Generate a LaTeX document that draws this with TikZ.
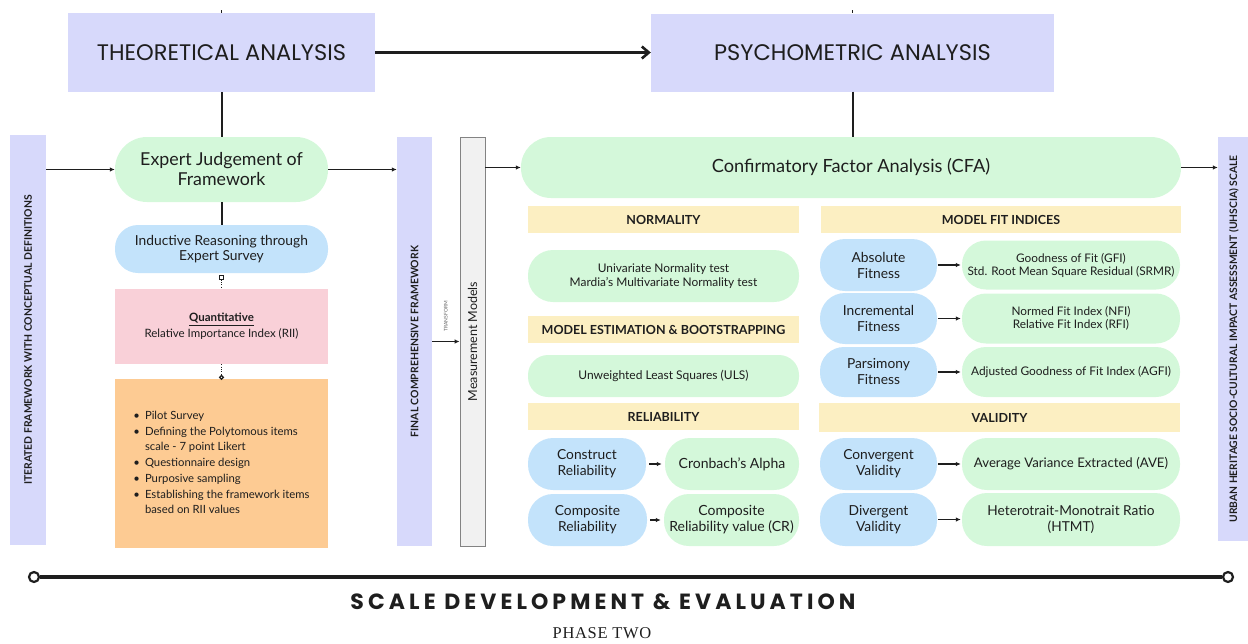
\documentclass[tikz,border=0pt]{standalone}
\usepackage{fontspec}
\setmainfont{Lato}
\newfontfamily\headfont{Poppins}
\newfontfamily\scalefont{Poppins}[LetterSpace=18.5]
\newfontfamily\phasefont{Liberation Serif}[LetterSpace=4.0]
\usetikzlibrary{arrows.meta}

\definecolor{lavender}{HTML}{D7D9FB}
\definecolor{mint}{HTML}{D4F8DA}
\definecolor{sky}{HTML}{C3E3FB}
\definecolor{rose}{HTML}{F9D0D8}
\definecolor{apricot}{HTML}{FDCB93}
\definecolor{cream}{HTML}{FCEFC2}
\definecolor{paper}{HTML}{F1F1F1}
\definecolor{ink}{HTML}{1E1E1E}

\tikzset{
  headbox/.style={rectangle, fill=lavender, inner sep=0pt, font=\headfont\fontsize{22.5}{26}\selectfont},
  sidebar/.style={rectangle, fill=lavender, inner sep=0pt},
  sidetext/.style={rotate=90, inner sep=0pt, font=\bfseries\fontsize{10.4}{12}\selectfont},
  greenpill/.style={rectangle, fill=mint, rounded corners=#1, inner sep=0pt, align=center},
  bluepill/.style={rectangle, fill=sky, rounded corners=#1, inner sep=0pt, align=center, font=\fontsize{13.8}{16}\selectfont},
  bandhead/.style={rectangle, fill=cream, inner sep=0pt, minimum height=27pt, font=\bfseries\fontsize{12.5}{15}\selectfont},
  conn/.style={line width=1.1pt, draw=ink},
  tip/.style={-{Latex[length=5pt,width=4.5pt]}},
}

\begin{document}
\begin{tikzpicture}[x=1pt, y=-1pt, text=ink]
\useasboundingbox (0,0) rectangle (1248,643);

% top row
\node[headbox, minimum width=307pt, minimum height=79pt] (theo) at (221.5,52.5) {THEORETICAL ANALYSIS};
\node[headbox, minimum width=403pt, minimum height=78pt] (psy) at (852.5,52.5) {PSYCHOMETRIC ANALYSIS};
\coordinate (t1) at (221.5,10);
\coordinate (t2) at (852.5,10);

% side bars
\node[sidebar, minimum width=36pt, minimum height=410pt, label={[sidetext]center:ITERATED FRAMEWORK WITH CONCEPTUAL DEFINITIONS}] (iter) at (28,340) {};
\node[sidebar, minimum width=35pt, minimum height=409pt, label={[sidetext]center:FINAL COMPREHENSIVE FRAMEWORK}] (final) at (414.5,341.5) {};
\node[rectangle, draw=ink!55, fill=paper, line width=0.8pt, minimum width=25pt, minimum height=409pt, inner sep=0pt, label={[rotate=90, inner sep=0pt, font=\fontsize{12.5}{14}\selectfont]center:Measurement Models}] (meas) at (472.5,341.5) {};
\node[sidebar, minimum width=32pt, minimum height=404pt, label={[sidetext, font=\bfseries\fontsize{10.3}{12}\selectfont]center:URBAN HERITAGE SOCIO-CULTURAL IMPACT ASSESSMENT (UHSCIA) SCALE}] (scale) at (1234,339) {};

% theoretical column
\node[greenpill=32pt, minimum width=213pt, minimum height=65pt, font=\fontsize{17.8}{20}\selectfont] (expert) at (221.5,169.5) {Expert Judgement of\\Framework};
\node[bluepill=23pt, minimum width=213pt, minimum height=48pt, font=\fontsize{13.8}{15.5}\selectfont] (induct) at (221.5,249) {Inductive Reasoning through\\Expert Survey};
\node[rectangle, fill=rose, minimum width=213pt, minimum height=75pt, align=center, font=\fontsize{11.5}{16}\selectfont] (quant) at (221.5,326.5) {\underline{\textbf{Quantitative}}\\Relative Importance Index (RII)};
\node[rectangle, fill=apricot, minimum width=213pt, minimum height=169pt, font=\fontsize{11.3}{15.7}\selectfont] (pilot) at (221.5,463.5) {%
  \begin{tabular}{@{}l@{\hspace{5pt}}l@{}}
  \textbullet & Pilot Survey\\
  \textbullet & Defining the Polytomous items\\
   & scale - 7 point Likert\\
  \textbullet & Questionnaire design\\
  \textbullet & Purposive sampling\\
  \textbullet & Establishing the framework items\\
   & based on RII values
  \end{tabular}\hspace{3pt}};

% psychometric column
\node[greenpill=30pt, minimum width=660pt, minimum height=61pt, font=\fontsize{18.2}{21}\selectfont] (cfa) at (851,167.5) {Confirmatory Factor Analysis (CFA)};

\node[bandhead, minimum width=271pt] (normhd) at (663.5,219.5) {NORMALITY};
\node[greenpill=25pt, minimum width=271pt, minimum height=52pt, font=\fontsize{11.9}{13.5}\selectfont] (normal) at (663.5,276) {Univariate Normality test\\Mardia's Multivariate Normality test};
\node[bandhead, minimum width=271pt] (esthd) at (663.5,329.5) {MODEL ESTIMATION \& BOOTSTRAPPING};
\node[greenpill=20pt, minimum width=271pt, minimum height=42pt, font=\fontsize{12}{13}\selectfont] (uls) at (663.5,376) {Unweighted Least Squares (ULS)};
\node[bandhead, minimum width=271pt] (relhd) at (663.5,416.5) {RELIABILITY};
\node[bluepill=25pt, minimum width=118pt, minimum height=52pt] (constr) at (587,464) {Construct\\Reliability};
\node[greenpill=25pt, minimum width=134pt, minimum height=52pt, font=\fontsize{14}{16}\selectfont] (cronb) at (732,464) {Cronbach's Alpha};
\node[bluepill=25pt, minimum width=119pt, minimum height=52pt] (compo) at (587.5,520) {Composite\\Reliability};
\node[greenpill=25pt, minimum width=135pt, minimum height=52pt, font=\fontsize{14}{16}\selectfont] (crval) at (731.5,520) {Composite\\Reliability value (CR)};

\node[bandhead, minimum width=360pt] (fithd) at (1001,219.5) {MODEL FIT INDICES};
\node[bluepill=25pt, minimum width=117pt, minimum height=52pt] (absf) at (878.5,265) {Absolute\\Fitness};
\node[greenpill=24pt, minimum width=218pt, minimum height=49pt, font=\fontsize{11.8}{13}\selectfont] (absv) at (1071,265) {Goodness of Fit (GFI)\\Std. Root Mean Square Residual (SRMR)};
\node[bluepill=25pt, minimum width=117pt, minimum height=51pt] (incf) at (878.5,318.5) {Incremental\\Fitness};
\node[greenpill=24pt, minimum width=218pt, minimum height=50pt, font=\fontsize{11.8}{13}\selectfont] (incv) at (1071,318.5) {Normed Fit Index (NFI)\\Relative Fit Index (RFI)};
\node[bluepill=24pt, minimum width=117pt, minimum height=50pt] (parf) at (878.5,372) {Parsimony\\Fitness};
\node[greenpill=24pt, minimum width=218pt, minimum height=50pt, font=\fontsize{11.9}{13}\selectfont] (parv) at (1071,372) {Adjusted Goodness of Fit Index (AGFI)};
\node[bandhead, minimum width=361pt, minimum height=29pt] (valhd) at (999.5,417.5) {VALIDITY};
\node[bluepill=25pt, minimum width=117pt, minimum height=52pt] (conf) at (878.5,464) {Convergent\\Validity};
\node[greenpill=25pt, minimum width=218pt, minimum height=52pt, font=\fontsize{13.2}{15}\selectfont] (conv) at (1071,464) {Average Variance Extracted (AVE)};
\node[bluepill=25pt, minimum width=117pt, minimum height=53pt] (divf) at (878.5,519.5) {Divergent\\Validity};
\node[greenpill=25pt, minimum width=218pt, minimum height=53pt, font=\fontsize{13.7}{16}\selectfont] (divv) at (1071,519.5) {Heterotrait-Monotrait Ratio\\(HTMT)};

% timeline
\node[circle, draw=ink, line width=2.2pt, fill=white, minimum size=10pt, inner sep=0pt] (tl) at (34,577) {};
\node[circle, draw=ink, line width=2.2pt, fill=white, minimum size=10pt, inner sep=0pt] (tr) at (1228,577) {};
\node[font=\scalefont\bfseries\fontsize{22}{24}\selectfont] (phase) at (603,602) {SCALE DEVELOPMENT \& EVALUATION};
\node[font=\phasefont\fontsize{16.5}{18}\selectfont] (two) at (602,633) {PHASE TWO};

% connectors
\path (t1) edge[line width=1pt, draw=ink] node[] {} (theo.north);
\path (t2) edge[line width=1pt, draw=ink] node[] {} (psy.north);
\path [-{Straight Barb[length=7pt,width=12pt]}] (theo) edge[line width=2.6pt, draw=ink] node[] {} (psy);
\path (theo) edge[line width=2pt, draw=ink] node[] {} (expert);
\path (expert) edge[line width=2pt, draw=ink] node[] {} (induct);
\path (psy.south) edge[line width=2pt, draw=ink] node[] {} (psy.south |- cfa.north);
\path [dotted, {Square[open,length=5pt,width=5pt,line width=1.2pt]}-] (induct) edge[conn, shorten <=2pt] node[] {} (quant);
\path [dotted, -{Circle[open,length=5pt,width=5pt,line width=1.2pt]}] (quant) edge[conn, shorten >=-1pt] node[] {} (pilot);
\path [tip] (iter.east |- expert.west) edge[conn] node[] {} (expert);
\path [tip] (expert) edge[conn] node[] {} (final.west |- expert.east);
\path [tip] (final) edge[conn] node[rotate=90, anchor=west, inner sep=0pt, outer sep=10pt, text=ink!70, font=\fontsize{5}{6}\selectfont] {TRANSFORM} (meas);
\path [tip] (meas.east |- cfa.west) edge[conn] node[] {} (cfa);
\path [tip] (cfa) edge[conn] node[] {} (scale.west |- cfa.east);
\path [tip] (constr) edge[conn, shorten <=3pt, shorten >=3pt] node[] {} (cronb);
\path [tip] (compo) edge[conn, shorten <=3pt, shorten >=3pt] node[] {} (crval);
\path [tip] (absf) edge[conn, shorten <=1pt, shorten >=1pt] node[] {} (absv);
\path [tip] (incf) edge[conn, shorten <=1pt, shorten >=1pt] node[] {} (incv);
\path [tip] (parf) edge[conn, shorten <=1pt, shorten >=1pt] node[] {} (parv);
\path [tip] (conf) edge[conn, shorten <=1pt, shorten >=1pt] node[] {} (conv);
\path [tip] (divf) edge[conn, shorten <=1pt, shorten >=1pt] node[] {} (divv);
\path (tl) edge[line width=3.2pt, draw=ink] node[] {} (tr);
\end{tikzpicture}
\end{document}
